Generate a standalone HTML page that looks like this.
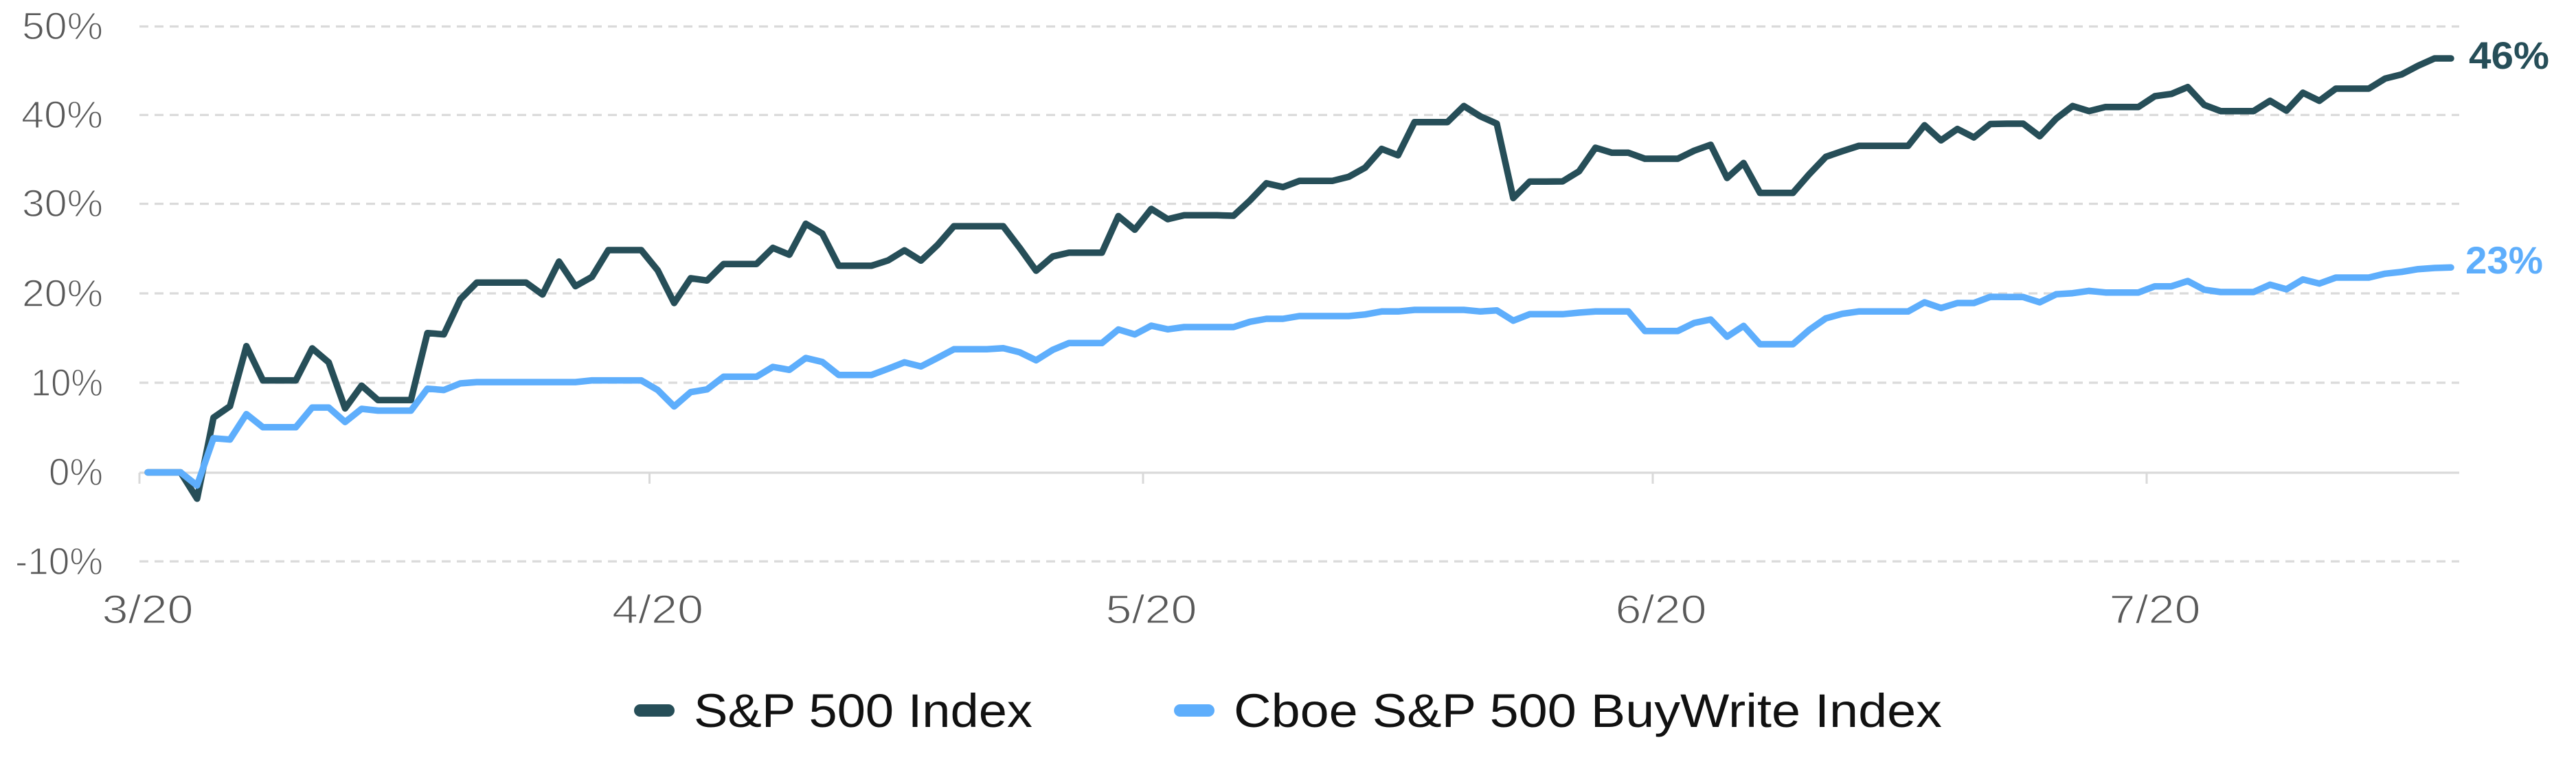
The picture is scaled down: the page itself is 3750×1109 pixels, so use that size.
<!DOCTYPE html>
<html>
<head>
<meta charset="utf-8">
<style>
html,body{margin:0;padding:0;background:#fff;}
svg{display:block;}
text{font-family:"Liberation Sans",sans-serif;}
</style>
</head>
<body>
<svg width="3750" height="1109" viewBox="0 0 3750 1109" xmlns="http://www.w3.org/2000/svg">
<rect width="3750" height="1109" fill="#fff"/>
<!-- gridlines -->
<g stroke="#dadada" stroke-width="3.2" stroke-dasharray="13 9" fill="none">
<line x1="203" y1="38.5" x2="3580" y2="38.5"/>
<line x1="203" y1="167.3" x2="3580" y2="167.3"/>
<line x1="203" y1="296.6" x2="3580" y2="296.6"/>
<line x1="203" y1="427" x2="3580" y2="427"/>
<line x1="203" y1="557" x2="3580" y2="557"/>
<line x1="203" y1="817" x2="3580" y2="817"/>
</g>
<line x1="203" y1="688" x2="3580" y2="688" stroke="#d9d9d9" stroke-width="3.2"/>
<g stroke="#d9d9d9" stroke-width="3">
<line x1="203" y1="688" x2="203" y2="704"/>
<line x1="945.5" y1="688" x2="945.5" y2="704"/>
<line x1="1664" y1="688" x2="1664" y2="704"/>
<line x1="2406" y1="688" x2="2406" y2="704"/>
<line x1="3125" y1="688" x2="3125" y2="704"/>
</g>
<!-- y labels -->
<g fill="#595959" font-size="56" text-anchor="end" stroke="#fff" stroke-width="1.4">
<text x="150" y="57" textLength="118" lengthAdjust="spacingAndGlyphs">50%</text>
<text x="150" y="186" textLength="119" lengthAdjust="spacingAndGlyphs">40%</text>
<text x="150" y="315" textLength="118" lengthAdjust="spacingAndGlyphs">30%</text>
<text x="150" y="446" textLength="118" lengthAdjust="spacingAndGlyphs">20%</text>
<text x="150" y="576" textLength="105" lengthAdjust="spacingAndGlyphs">10%</text>
<text x="150" y="706" textLength="79" lengthAdjust="spacingAndGlyphs">0%</text>
<text x="150" y="836" textLength="128" lengthAdjust="spacingAndGlyphs">-10%</text>
</g>
<!-- x labels -->
<g fill="#595959" font-size="58" text-anchor="middle" stroke="#fff" stroke-width="1.4">
<text x="215" y="907" textLength="133" lengthAdjust="spacingAndGlyphs">3/20</text>
<text x="957.5" y="907" textLength="133" lengthAdjust="spacingAndGlyphs">4/20</text>
<text x="1676" y="907" textLength="133" lengthAdjust="spacingAndGlyphs">5/20</text>
<text x="2418" y="907" textLength="133" lengthAdjust="spacingAndGlyphs">6/20</text>
<text x="3137" y="907" textLength="133" lengthAdjust="spacingAndGlyphs">7/20</text>
</g>
<!-- S&P 500 -->
<polyline fill="none" stroke="#264e58" stroke-width="9.5" stroke-linejoin="round" stroke-linecap="round" points="215,687.5 239,687.5 262.9,687.5 286.9,725.8 310.8,607.8 334.8,591.2 358.7,503.8 382.7,553.6 406.6,553.6 430.6,553.6 454.5,507 478.5,527.4 502.4,594.4 526.4,561.2 550.3,582.3 574.3,582.3 598.2,582.3 622.2,484.7 646.1,486.6 670.1,435.6 694,411.3 718,411.3 741.9,411.3 765.9,411.3 789.8,428.6 813.8,380.7 837.7,416.5 861.7,403 885.6,364 909.6,364 933.5,364 957.5,393.5 981.4,441 1005.4,405 1029.3,408.3 1053.3,384.3 1077.2,384.3 1101.2,384.3 1125.1,360.7 1149.1,370.7 1173,325.7 1197,340 1220.9,386.7 1244.9,386.7 1268.8,386.7 1292.8,379 1316.7,364.3 1340.7,379.3 1364.6,356.7 1388.6,329.3 1412.5,329.3 1436.5,329.3 1460.4,329.3 1484.4,360.7 1508.3,394 1532.3,373.3 1556.2,367.7 1580.2,367.7 1604.1,367.7 1628.1,314.5 1652,334.3 1676,304 1699.9,319 1723.9,313.3 1747.8,313.3 1771.8,313.3 1795.7,314 1819.7,291.7 1843.6,266.7 1867.6,272.3 1891.5,263.3 1915.5,263.3 1939.4,263.3 1963.4,257.3 1987.3,244 2011.3,216.7 2035.2,226 2059.2,177.7 2083.1,177.7 2107.1,177.7 2131,154.3 2155,169.3 2178.9,180 2202.9,288.3 2226.8,264.3 2250.8,264.3 2274.7,264 2298.7,249.3 2322.6,215 2346.6,222.3 2370.5,222.3 2394.5,231 2418.4,231 2442.4,231 2466.3,219.3 2490.3,210.7 2514.2,259 2538.2,237.3 2562.1,280.7 2586.1,280.7 2610,280.7 2634,253.3 2657.9,228.3 2681.9,220 2705.8,212.3 2729.8,212.3 2753.7,212.3 2777.7,212.3 2801.6,182.3 2825.6,204.3 2849.5,187.7 2873.5,200 2897.4,180.5 2921.4,180 2945.3,180 2969.3,198.3 2993.2,172.7 3017.2,154.3 3041.1,161.7 3065.1,155.7 3089,155.7 3113,155.7 3136.9,140 3160.9,136.7 3184.8,126.7 3208.8,152.7 3232.7,161.7 3256.7,161.7 3280.6,161.7 3304.6,146.7 3328.5,161 3352.5,135 3376.4,146.7 3400.4,129 3424.3,129 3448.3,129 3472.2,114.3 3496.2,108.3 3520.1,95.7 3544.1,85 3568,85"/>
<!-- BuyWrite -->
<polyline fill="none" stroke="#5eaefc" stroke-width="9.5" stroke-linejoin="round" stroke-linecap="round" points="215,687.5 239,687.5 262.9,687.5 286.9,706.6 310.8,637.8 334.8,639.7 358.7,602.7 382.7,621.8 406.6,621.8 430.6,621.8 454.5,593.1 478.5,593.1 502.4,614.2 526.4,595 550.3,597.6 574.3,597.6 598.2,597.6 622.2,565.7 646.1,567.6 670.1,558 694,556.1 718,556.1 741.9,556.1 765.9,556.1 789.8,556.1 813.8,556.1 837.7,556.1 861.7,553.6 885.6,553.6 909.6,553.6 933.5,553.6 957.5,567.6 981.4,591.5 1005.4,570.7 1029.3,566.7 1053.3,548.3 1077.2,548.3 1101.2,548.3 1125.1,534 1149.1,538.3 1173,521 1197,526.7 1220.9,545.7 1244.9,545.7 1268.8,545.7 1292.8,536.7 1316.7,527.3 1340.7,533.3 1364.6,521 1388.6,508.3 1412.5,508.3 1436.5,508.3 1460.4,506.7 1484.4,512.7 1508.3,524.3 1532.3,509.3 1556.2,499.3 1580.2,499.3 1604.1,499.3 1628.1,479.5 1652,486.7 1676,474 1699.9,479.3 1723.9,476 1747.8,476 1771.8,476 1795.7,476 1819.7,468.3 1843.6,464 1867.6,464 1891.5,460 1915.5,460 1939.4,460 1963.4,460 1987.3,457.7 2011.3,453.3 2035.2,453.3 2059.2,451 2083.1,451 2107.1,451 2131,451 2155,453.3 2178.9,451.7 2202.9,466.7 2226.8,457.3 2250.8,457.3 2274.7,457.3 2298.7,455 2322.6,453.3 2346.6,453.3 2370.5,453.3 2394.5,481.7 2418.4,481.7 2442.4,481.7 2466.3,470 2490.3,465 2514.2,490 2538.2,474.3 2562.1,501 2586.1,501 2610,501 2634,480 2657.9,463.3 2681.9,456.7 2705.8,453.3 2729.8,453.3 2753.7,453.3 2777.7,453.3 2801.6,440 2825.6,448.3 2849.5,441 2873.5,441 2897.4,432 2921.4,432.3 2945.3,432.3 2969.3,440 2993.2,428.3 3017.2,426.7 3041.1,423.3 3065.1,425.7 3089,425.7 3113,425.7 3136.9,416.7 3160.9,416.7 3184.8,409 3208.8,421.7 3232.7,425 3256.7,425 3280.6,425 3304.6,414.3 3328.5,421 3352.5,406.7 3376.4,412.7 3400.4,404 3424.3,404 3448.3,404 3472.2,398.3 3496.2,395.7 3520.1,391.7 3544.1,390 3568,389.3"/>
<!-- end labels -->
<text x="3594" y="100" font-size="56" font-weight="bold" fill="#264e58" textLength="117" lengthAdjust="spacingAndGlyphs">46%</text>
<text x="3589" y="398" font-size="56" font-weight="bold" fill="#5eaefc" textLength="113" lengthAdjust="spacingAndGlyphs">23%</text>
<!-- legend -->
<line x1="932" y1="1034" x2="973" y2="1034" stroke="#264e58" stroke-width="18" stroke-linecap="round"/>
<text x="1010" y="1058" font-size="69" fill="#111" textLength="493" lengthAdjust="spacingAndGlyphs">S&amp;P 500 Index</text>
<line x1="1718" y1="1034" x2="1759" y2="1034" stroke="#5eaefc" stroke-width="18" stroke-linecap="round"/>
<text x="1796" y="1058" font-size="69" fill="#111" textLength="1031" lengthAdjust="spacingAndGlyphs">Cboe S&amp;P 500 BuyWrite Index</text>
</svg>
</body>
</html>
